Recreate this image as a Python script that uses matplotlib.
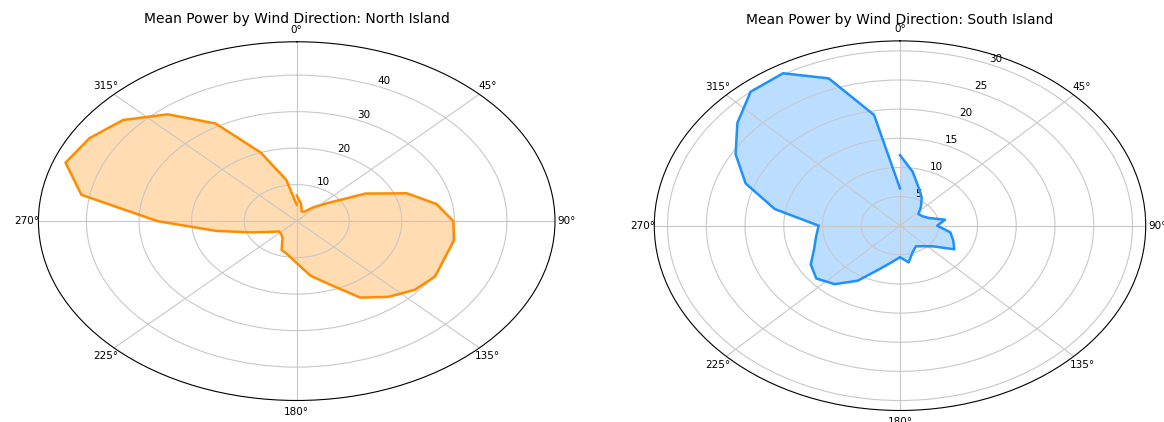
import numpy as np
import matplotlib.pyplot as plt

# wind direction bins (degrees, rounded to nearest 10 so 0 and 360 are separate)
directions = np.arange(0, 361, 10)

north_power = [7.0, 4.8, 2.8, 3.0, 5.0, 7.7, 15.1, 22.3, 27.0, 29.8,
               30.4, 29.9, 30.4, 29.3, 27.1, 24.2, 18.5, 15.2, 11.5, 9.4,
               8.4, 5.4, 4.6, 4.4, 5.9, 9.0, 15.5, 26.5, 41.6, 46.8,
               45.5, 43.1, 38.2, 30.9, 20.0, 11.5, 4.5]

south_power = [12.1, 9.4, 7.0, 5.6, 4.2, 3.1, 3.3, 3.9, 5.9, 4.8,
               6.6, 7.3, 8.1, 5.5, 4.6, 4.1, 4.8, 6.4, 5.4, 6.4,
               8.0, 10.9, 13.1, 14.1, 13.3, 11.8, 11.0, 10.5, 16.4, 21.2,
               24.5, 27.4, 30.0, 30.2, 26.9, 19.3, 6.4]

fig = plt.figure(figsize=(11.64, 4.22), dpi=100)
ax_n = fig.add_axes([0.033, 0.0510, 0.4438, 0.8500], projection='polar')
ax_s = fig.add_axes([0.5621, 0.0273, 0.4222, 0.8758], projection='polar')

panels = [
    (ax_n, north_power, 'darkorange', 'North Island', 1.052),
    (ax_s, south_power, 'dodgerblue', 'South Island', 1.046),
]

theta = np.deg2rad(directions)
for ax, power, color, island, title_y in panels:
    ax.set_theta_zero_location('N')
    ax.set_theta_direction(-1)
    ax.plot(theta, power, color=color, lw=1.8)
    ax.fill(theta, power, color=color, alpha=0.3, lw=0)
    ax.set_ylim(0, max(power) * 1.05)
    ax.set_aspect('auto')
    ax.tick_params(labelsize=7.5)
    ax.tick_params(axis='x', pad=-2)
    ax.grid(True, color='#c8c8c8', lw=0.8)
    ax.set_title('Mean Power by Wind Direction: ' + island,
                 fontsize=10, y=title_y, pad=0)

fig.savefig('out.png', dpi=100)
